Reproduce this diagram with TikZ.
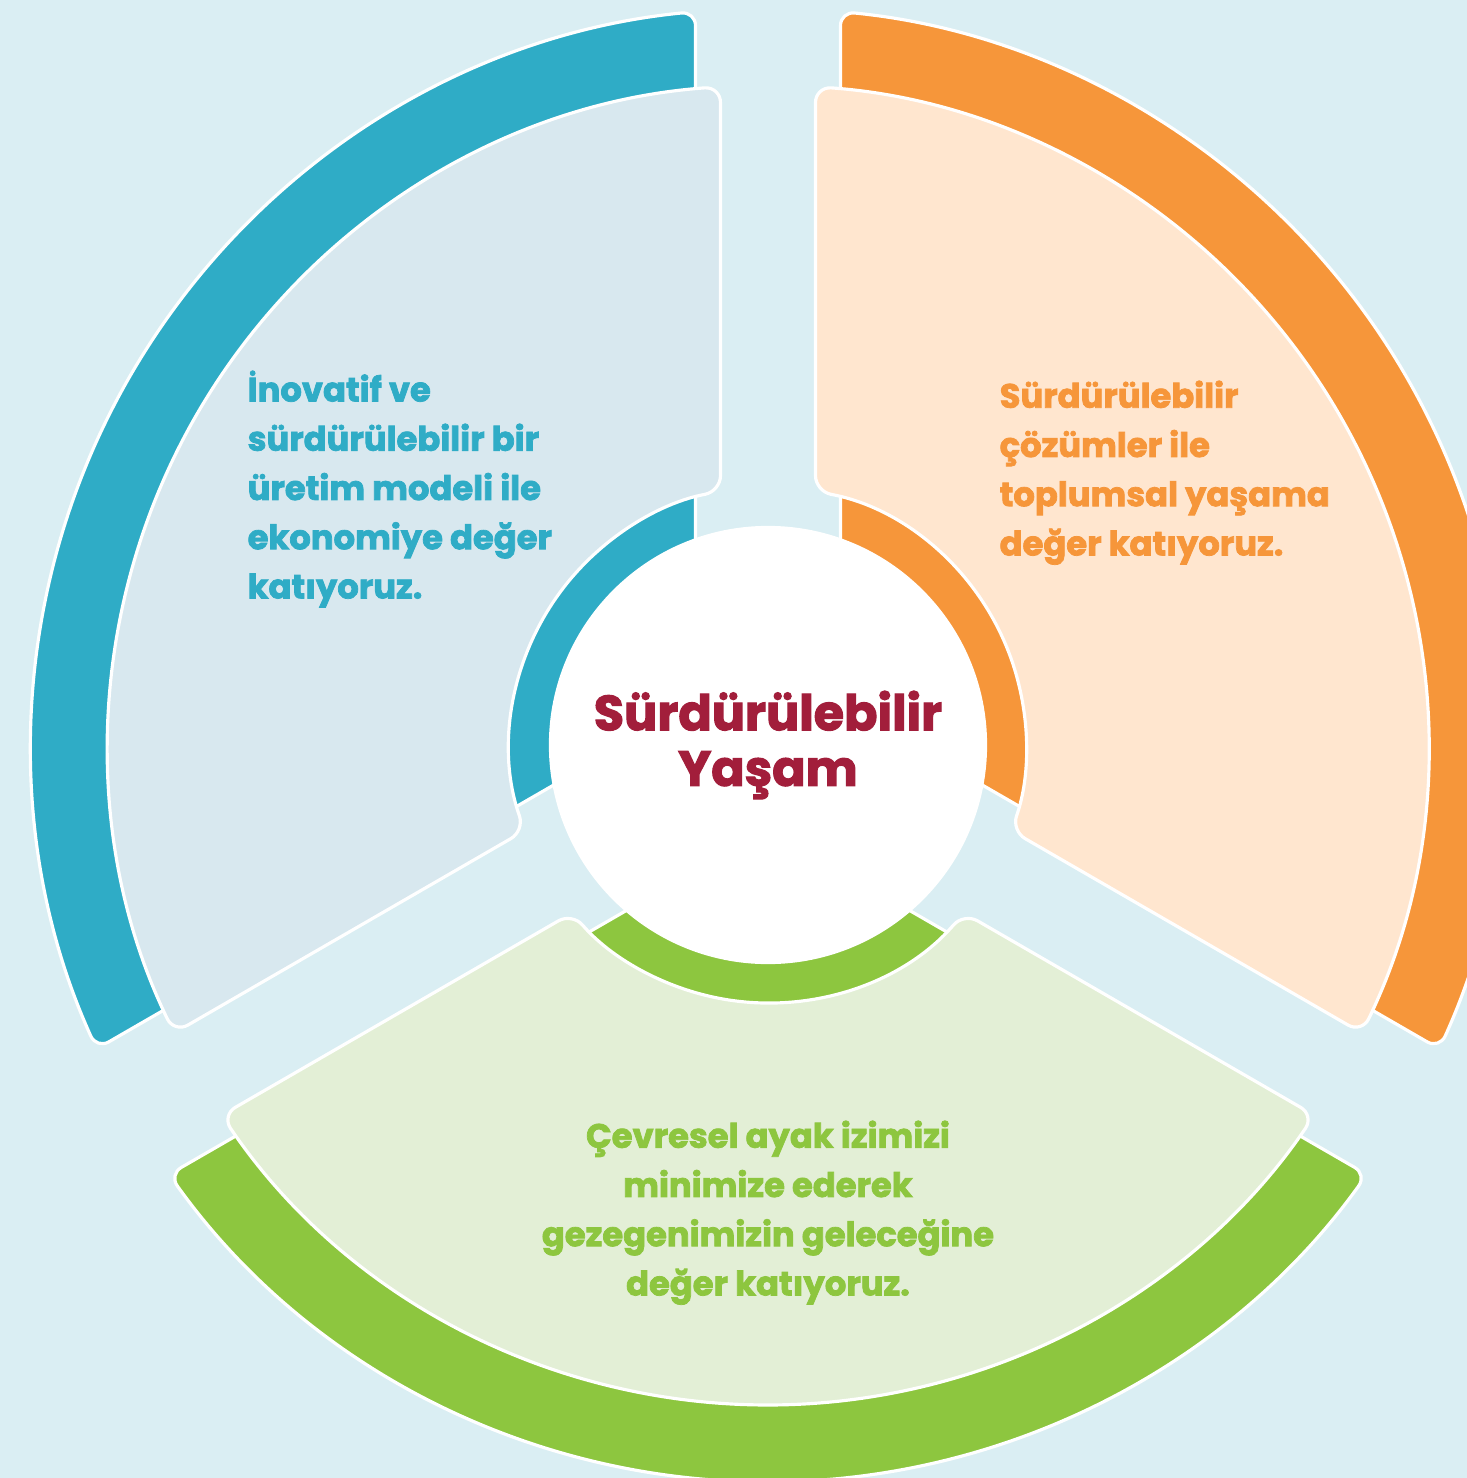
\documentclass[tikz,border=0pt]{standalone}
\usepackage{fontspec}
\setmainfont{Poppins}[BoldFeatures={FakeBold=2.2}]
\usetikzlibrary{positioning}

\definecolor{bgblue}{HTML}{DAEEF3}
\definecolor{tealband}{HTML}{2FACC6}
\definecolor{tealpanel}{HTML}{D8E8EF}
\definecolor{orangeband}{HTML}{F6963A}
\definecolor{orangepanel}{HTML}{FFE6CF}
\definecolor{greenband}{HTML}{8DC63F}
\definecolor{greenpanel}{HTML}{E3EFD6}
\definecolor{titlered}{HTML}{A21E3B}

% ring piece between two gaps: from angle, to angle, half gap, inner r, outer r
% (starts half way along the first edge so that every corner gets rounded)
\newcommand{\ringsector}[5]{%
  ({#1+asin(#3/((#4+#5)/2))}:{(#4+#5)/2}) -- ({#1+asin(#3/#5)}:#5)
  arc[start angle={#1+asin(#3/#5)}, end angle={#2-asin(#3/#5)}, radius=#5]
  -- ({#2-asin(#3/#4)}:#4)
  arc[start angle={#2-asin(#3/#4)}, end angle={#1+asin(#3/#4)}, radius=#4] -- cycle}

\tikzset{
  band/.style={draw=white,line width=0.9pt,rounded corners=4pt},
  panel/.style={draw=white,line width=0.9pt,rounded corners=4.5pt},
  hub/.style={circle,fill=white,minimum size=4.38cm,inner sep=0pt,align=center,
    text=titlered,font=\fontsize{14}{15.8}\selectfont\bfseries},
  bodytext/.style={inner sep=0pt,font=\fontsize{9.6}{14}\selectfont\bfseries}
}

\begin{document}
\begin{tikzpicture}[x=0.01cm,y=0.01cm]

\useasboundingbox (-768,-733) rectangle (699,745);
\clip (-768,-733) rectangle (699,745);
\fill[bgblue] (-768,-733) rectangle (699,745);

\draw[band,fill=tealband] \ringsector{90}{210}{72.5}{120}{737};
\draw[band,fill=orangeband] \ringsector{-30}{90}{72.5}{120}{737};
\draw[band,fill=greenband] \ringsector{210}{330}{72.5}{120}{737};

\draw[panel,fill=tealpanel] \ringsector{90}{210}{47.5}{258}{660};
\draw[panel,fill=orangepanel] \ringsector{-30}{90}{47.5}{258}{660};
\draw[panel,fill=greenpanel] \ringsector{210}{330}{47.5}{258}{660};

\node[hub] (hub) at (0,0) {Sürdürülebilir\\Yaşam};

\node[bodytext,text=tealband,align=left,anchor=north west] (econ) at (-521,375)
  {İnovatif ve\\sürdürülebilir bir\\üretim modeli ile\\ekonomiye değer\\katıyoruz.};
\node[bodytext,text=orangeband,align=left,anchor=north west] (social) at (231,365)
  {Sürdürülebilir\\çözümler ile\\toplumsal yaşama\\değer katıyoruz.};
\node[bodytext,text=greenband,align=center,anchor=north] (planet) at (0,-375)
  {Çevresel ayak izimizi\\minimize ederek\\gezegenimizin geleceğine\\değer katıyoruz.};

\end{tikzpicture}
\end{document}
